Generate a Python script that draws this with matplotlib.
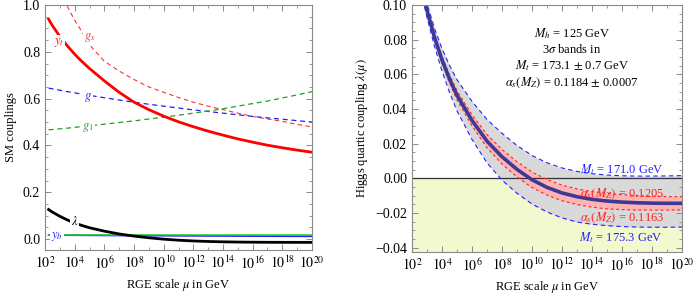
import numpy as np
import matplotlib
matplotlib.use('Agg')
import matplotlib.pyplot as plt
from matplotlib.ticker import NullFormatter

plt.rcParams['font.family'] = ['Liberation Serif', 'DejaVu Serif']
plt.rcParams['mathtext.fontset'] = 'stix'
plt.rcParams['font.size'] = 9

# log10(mu / GeV) sample points
log_mu = [2.24, 2.5, 3, 3.5, 4, 4.5, 5, 6, 7, 8, 9, 10, 11, 12, 13, 14, 15, 16, 17, 18, 19, 20]

# left panel: SM couplings
y_t = [0.94, 0.912, 0.866, 0.826, 0.79, 0.758, 0.729, 0.676, 0.627, 0.585, 0.553, 0.525,
       0.501, 0.48, 0.461, 0.444, 0.428, 0.414, 0.401, 0.39, 0.38, 0.371]
g_s = [1.17, 1.13, 1.06, 0.995, 0.935, 0.885, 0.83, 0.76, 0.718, 0.682, 0.65, 0.627,
       0.605, 0.585, 0.568, 0.553, 0.538, 0.524, 0.513, 0.503, 0.49, 0.479]
g_2 = [0.645, 0.642, 0.636, 0.630, 0.625, 0.619, 0.614, 0.604, 0.594, 0.585, 0.576, 0.568,
       0.560, 0.552, 0.545, 0.538, 0.531, 0.524, 0.518, 0.512, 0.506, 0.500]
g_1 = [0.467, 0.468, 0.471, 0.474, 0.477, 0.481, 0.484, 0.491, 0.498, 0.505, 0.513, 0.521,
       0.529, 0.538, 0.547, 0.557, 0.568, 0.579, 0.590, 0.603, 0.616, 0.630]
y_b = [0.017, 0.0168, 0.0165, 0.0162, 0.016, 0.0158, 0.0156, 0.0152, 0.0148, 0.0145, 0.0142, 0.014,
       0.0137, 0.0134, 0.0131, 0.0128, 0.0125, 0.0122, 0.012, 0.0118, 0.0116, 0.0114]
y_green = [0.015, 0.015, 0.015, 0.015, 0.015, 0.015, 0.015, 0.015, 0.015, 0.015, 0.015, 0.015,
           0.015, 0.015, 0.015, 0.015, 0.015, 0.015, 0.015, 0.015, 0.015, 0.015]

# right panel: lambda(mu), central value and 3 sigma bands
lam_mid = [0.126, 0.115, 0.097, 0.0815, 0.0685, 0.0575, 0.048, 0.0335, 0.0215, 0.0125, 0.0052, -0.0008,
           -0.0052, -0.0084, -0.0106, -0.0121, -0.0131, -0.0137, -0.0141, -0.0143, -0.0144, -0.0144]
lam_mt171 = [0.128, 0.1175, 0.101, 0.0867, 0.075, 0.0653, 0.057, 0.0445, 0.034, 0.026, 0.019, 0.0132,
             0.009, 0.006, 0.004, 0.0027, 0.0019, 0.0015, 0.0013, 0.0013, 0.0014, 0.0016]
lam_mt175 = [0.124, 0.1125, 0.093, 0.0763, 0.062, 0.0497, 0.039, 0.0225, 0.009, -0.001, -0.0086, -0.0148,
             -0.0194, -0.0228, -0.0252, -0.0265, -0.0273, -0.0278, -0.0281, -0.0282, -0.0282, -0.0281]
lam_as1205 = [0.1268, 0.1161, 0.0984, 0.0832, 0.0705, 0.0598, 0.0506, 0.0367, 0.0253, 0.0167, 0.0096, 0.0037,
              -0.0007, -0.0039, -0.0061, -0.0076, -0.0086, -0.0094, -0.0099, -0.0103, -0.0105, -0.0106]
lam_as1163 = [0.1252, 0.1139, 0.0956, 0.0798, 0.0665, 0.0552, 0.0454, 0.0303, 0.0177, 0.0083, 0.0008, -0.0053,
              -0.0097, -0.0129, -0.0151, -0.0166, -0.0176, -0.018, -0.0183, -0.0183, -0.0183, -0.0182]

mu = 10.0 ** np.array(log_mu)

fig = plt.figure(figsize=(6.97, 3.0), dpi=100)
ax1 = fig.add_axes([0.0646, 0.1667, 0.383, 0.8163])
ax2 = fig.add_axes([0.591, 0.16, 0.3875, 0.823])

frame_col = '#8a8a8a'


def style_axes(ax):
    ax.set_xscale('log')
    ax.set_xlim(1e2, 1e20)
    ax.set_xticks([10.0 ** k for k in range(2, 21, 2)])
    ax.set_xticklabels(['$10^{%d}$' % k for k in range(2, 21, 2)])
    ax.set_xticks([10.0 ** k for k in range(3, 20, 2)], minor=True)
    ax.xaxis.set_minor_formatter(NullFormatter())
    ax.tick_params(which='both', direction='in', top=True, right=True, color=frame_col, labelsize=10)
    ax.tick_params(which='major', length=4.5, width=0.7)
    ax.tick_params(which='minor', length=2.5, width=0.6)
    for s in ax.spines.values():
        s.set_color(frame_col)
        s.set_linewidth(0.8)
    ax.set_xlabel(r'RGE scale $\mu$ in GeV')


# ---- left panel
dash = (0, (4, 3))
ax1.plot(mu, g_s, color='#ff3030', lw=0.8, ls=dash)
ax1.plot(mu, g_2, color='#2020ff', lw=0.9, ls=dash)
ax1.plot(mu, g_1, color='#20a020', lw=0.9, ls=dash)
ax1.plot(mu, y_t, color='#ff0000', lw=2.0)
ax1.plot(mu, y_b, color='#2020ff', lw=1.2)
ax1.plot(mu, y_green, color='#22cc22', lw=1.1)
ax1.plot(mu, lam_mid, color='black', lw=2.0)

wb = dict(facecolor='white', edgecolor='none', pad=0.5)
ax1.text(10 ** 2.95, 0.84, '$y_t$', color='#ff0000', ha='center', va='center', bbox=wb)
ax1.text(10 ** 5.0, 0.86, '$g_s$', color='#ff3030', ha='center', va='center', bbox=wb)
ax1.text(10 ** 4.9, 0.606, '$g$', color='#2020ff', ha='center', va='center', bbox=wb)
ax1.text(10 ** 4.9, 0.477, '$g_1$', color='#20a020', ha='center', va='center', bbox=wb)
ax1.text(10 ** 4.0, 0.075, r'$\lambda$', color='black', ha='center', va='center', bbox=wb)
ax1.text(10 ** 2.8, 0.011, '$y_b$', color='#2020ff', ha='center', va='center', bbox=wb)

style_axes(ax1)
ax1.set_ylim(-0.047, 1.0)
ax1.set_yticks([0.0, 0.2, 0.4, 0.6, 0.8, 1.0])
ax1.set_yticklabels(['0.0', '0.2', '0.4', '0.6', '0.8', '1.0'])
ax1.set_yticks(np.arange(0.05, 1.0, 0.05), minor=True)
ax1.set_ylabel('SM couplings')

# ---- right panel
ax2.fill_between([1e2, 1e20], -0.05, 0, color='#f3f9cf', lw=0)
ax2.fill_between(mu, lam_mt175, lam_mt171, color='#d9d9d9', lw=0)
ax2.fill_between(mu, lam_as1163, lam_as1205, color='#ffb3b3', lw=0)
ax2.axhline(0, color='#333333', lw=0.9)
ax2.plot(mu, lam_mt171, color='#2222ff', lw=0.8, ls=dash)
ax2.plot(mu, lam_mt175, color='#2222ff', lw=0.8, ls=dash)
ax2.plot(mu, lam_as1205, color='#ff2020', lw=0.8, ls=(0, (2.5, 2.5)))
ax2.plot(mu, lam_as1163, color='#ff2020', lw=0.8, ls=(0, (2.5, 2.5)))
ax2.plot(mu, lam_mid, color='#3b3b96', lw=2.6)

ax2.text(10 ** 12.67, 0.0838, r'$M_h$ = 125 GeV', ha='center', va='center')
ax2.text(10 ** 12.67, 0.0745, r'3$\sigma$ bands in', ha='center', va='center')
ax2.text(10 ** 12.67, 0.0652, r'$M_t$ = 173.1 $\pm$ 0.7 GeV', ha='center', va='center')
ax2.text(10 ** 12.67, 0.0553, r'$\alpha_s(M_Z)$ = 0.1184 $\pm$ 0.0007', ha='center', va='center')

ax2.text(10 ** 16.0, 0.0048, r'$M_t$ = 171.0 GeV', color='#2222ff', ha='center', va='center')
ax2.text(10 ** 16.0, -0.0086, r'$\alpha_s(M_Z)$ = 0.1205', color='#ff2020', ha='center', va='center')
ax2.text(10 ** 16.0, -0.0226, r'$\alpha_s(M_Z)$ = 0.1163', color='#ff2020', ha='center', va='center')
ax2.text(10 ** 15.9, -0.0341, r'$M_t$ = 175.3 GeV', color='#2222ff', ha='center', va='center')

style_axes(ax2)
ax2.set_ylim(-0.0425, 0.10)
ax2.set_yticks([-0.04, -0.02, 0.0, 0.02, 0.04, 0.06, 0.08, 0.10])
ax2.set_yticklabels(['\u22120.04', '\u22120.02', '0.00', '0.02', '0.04', '0.06', '0.08', '0.10'])
ax2.set_yticks(np.arange(-0.04, 0.1, 0.005), minor=True)
ax2.set_ylabel(r'Higgs quartic coupling $\lambda(\mu)$')

fig.savefig('out.png', dpi=100)
